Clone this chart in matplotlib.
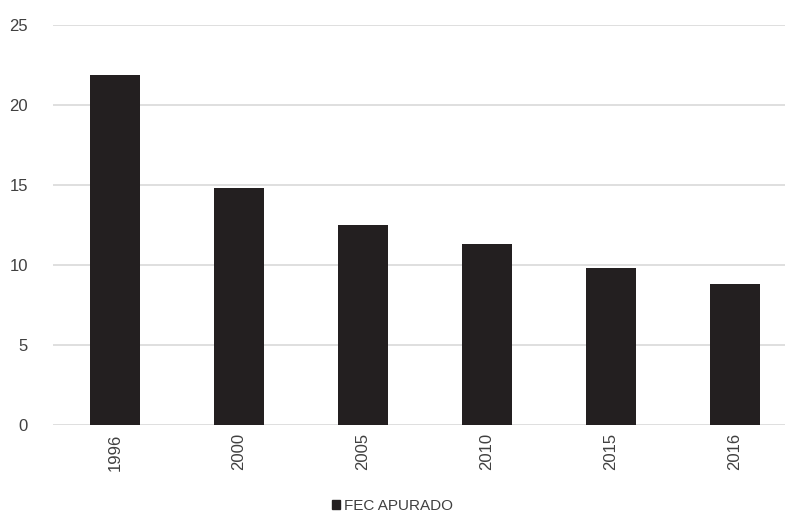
import matplotlib.pyplot as plt
from matplotlib.patches import Patch

plt.rcParams['font.family'] = ['Liberation Sans', 'DejaVu Sans']

anos = ['1996', '2000', '2005', '2010', '2015', '2016']
fec = [21.9, 14.8, 12.5, 11.3, 9.8, 8.8]

fig = plt.figure(figsize=(7.85, 5.16), dpi=100)
ax = fig.add_axes([53/785, 91/516, 732/785, 400/516])

x = range(len(anos))
ax.bar(x, fec, width=0.4, color='#231f20', zorder=3)

ax.set_ylim(0, 25)
ax.set_yticks([0, 5, 10, 15, 20, 25])
ax.set_xlim(-0.5, 5.5 - 12/124)
ax.set_xticks(list(x))
ax.set_xticklabels(anos, rotation=90)
ax.grid(axis='y', color='#d9d9d9', linewidth=1.2, zorder=0)
for s in ax.spines.values():
    s.set_visible(False)
ax.tick_params(axis='both', length=0, labelsize=12, labelcolor='#404040')
ax.tick_params(axis='y', pad=18)
ax.tick_params(axis='x', pad=6)

fig.legend(handles=[Patch(color='#231f20', label='FEC APURADO')],
           loc='lower center', bbox_to_anchor=(0.5, -0.02), frameon=False,
           fontsize=11, handlelength=0.5, handleheight=0.5, handletextpad=0.3,
           labelcolor='#404040')

fig.savefig('out.png', dpi=100)
